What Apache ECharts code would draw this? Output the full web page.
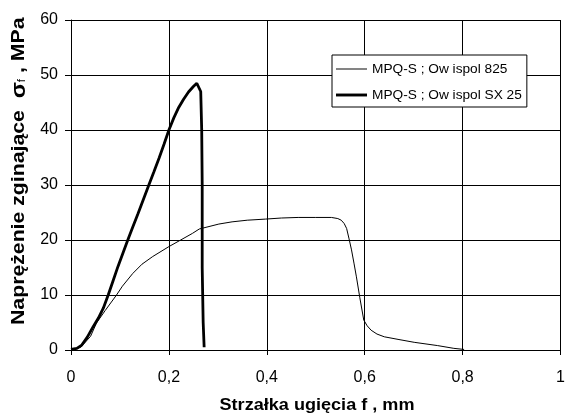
<!DOCTYPE html>
<html>
<head>
<meta charset="utf-8">
<script src="https://cdn.jsdelivr.net/npm/echarts@6/dist/echarts.min.js"></script>
<style>
  html, body { margin: 0; padding: 0; background: #fff; }
  #main { width: 568px; height: 414px; }
</style>
</head>
<body>
<div id="main"></div>
<script>
// dane
const seriesNames = ['MPQ-S ; Ow ispol 825', 'MPQ-S ; Ow ispol SX 25'];

// Owispol 825 (cienka linia)
const f825 = [0, 0.02, 0.04, 0.052, 0.07, 0.093, 0.105, 0.126, 0.145, 0.167, 0.2, 0.224, 0.248, 0.262,
    0.302, 0.329, 0.36, 0.397, 0.43, 0.464, 0.5, 0.532, 0.545, 0.552, 0.558, 0.563, 0.568, 0.573,
    0.578, 0.583, 0.59, 0.598, 0.605, 0.613, 0.625, 0.64, 0.67, 0.701, 0.749, 0.782, 0.803];
const s825 = [0, 0.5, 2.5, 4.9, 7.2, 10.0, 11.6, 13.9, 15.6, 17.0, 18.8, 20.0, 21.2, 22.0,
    22.9, 23.3, 23.6, 23.8, 24.0, 24.1, 24.1, 24.1, 23.9, 23.6, 23.0, 22.1, 20.2, 18.2,
    15.8, 13.3, 9.5, 5.45, 4.4, 3.6, 2.9, 2.4, 1.9, 1.4, 0.8, 0.3, 0.1];

// Owispol SX 25 (gruba linia)
const fSX25 = [0, 0.012, 0.022, 0.033, 0.045, 0.056, 0.066, 0.076, 0.086, 0.096, 0.106, 0.116, 0.126,
    0.137, 0.148, 0.159, 0.169, 0.18, 0.19, 0.2, 0.21, 0.22, 0.23, 0.24, 0.25, 0.257, 0.261, 0.265,
    0.267, 0.268, 0.268, 0.27, 0.272];
const sSX25 = [0.1, 0.3, 0.9, 2.3, 4.2, 5.8, 7.6, 10.0, 12.6, 15.2, 17.6, 20.0, 22.3,
    24.8, 27.4, 30.0, 32.3, 34.9, 37.4, 40.0, 42.2, 44.1, 45.6, 46.9, 47.9, 48.5, 48.3, 47.0,
    40, 30, 15, 5, 0.5];

function pairs(xs, ys) {
    return xs.map((x, i) => [x, ys[i]]);
}

let myChart = echarts.init(document.getElementById('main'), null, { renderer: 'canvas' });

const font = 'Liberation Sans, Arial, sans-serif';

let option = {
    backgroundColor: '#fff',
    animation: false,
    textStyle: { fontFamily: font },
    grid: {
        left: 71,
        top: 20,
        width: 493,
        height: 330
    },
    legend: {
        orient: 'vertical',
        left: 332,
        top: 55,
        data: [
            { name: seriesNames[0], icon: 'path://M0,0h32v1h-32z' },
            { name: seriesNames[1], icon: 'path://M0,0h32v3h-32z' }
        ],
        backgroundColor: '#fff',
        borderColor: '#000',
        borderWidth: 1,
        padding: [7, 5, 5, 4],
        itemWidth: 31,
        itemHeight: 14,
        itemGap: 12,
        textStyle: { fontSize: 13.7, color: '#000', fontFamily: font }
    },
    xAxis: {
        type: 'value',
        min: 0,
        max: 1,
        interval: 0.2,
        axisLine: { show: true, onZero: false, lineStyle: { color: '#000', width: 1 } },
        axisTick: { show: true, length: 5, lineStyle: { color: '#000' } },
        axisLabel: {
            fontSize: 16,
            color: '#000',
            margin: 20,
            formatter: v => String(+v.toFixed(1)).replace('.', ',')
        },
        splitLine: { show: true, lineStyle: { color: '#000', width: 1 } }
    },
    yAxis: {
        type: 'value',
        min: 0,
        max: 60,
        interval: 10,
        axisLine: { show: true, lineStyle: { color: '#000', width: 1 } },
        axisTick: { show: true, length: 6, lineStyle: { color: '#000' } },
        axisLabel: { fontSize: 16, color: '#000', margin: 13 },
        splitLine: { show: true, lineStyle: { color: '#000', width: 1 } }
    },
    graphic: [{
        // opis osi X
        type: 'text',
        x: 317,
        y: 406,
        scaleX: 1.13,
        style: {
            text: 'Strzałka ugięcia f , mm',
            font: 'bold 16px Liberation Sans, Arial, sans-serif',
            fill: '#000',
            align: 'center',
            verticalAlign: 'middle'
        }
    }, {
        // opis osi Y
        type: 'text',
        x: 19,
        y: 325,
        rotation: Math.PI / 2,
        scaleX: 1.18,
        style: {
            text: '{a|Naprężenie zginające  }{s|σ}{f|f}{a| , MPa}',
            fill: '#000',
            verticalAlign: 'middle',
            align: 'left',
            rich: {
                a: { fontSize: 18, fontWeight: 'bold', fontFamily: font, fill: '#000' },
                s: { fontSize: 20, fontWeight: 'bold', fontFamily: font, fill: '#000' },
                f: { fontSize: 10, fontFamily: font, fill: '#000', padding: [6, 0, 0, 0] }
            }
        }
    }],
    series: [{
        name: seriesNames[0],
        type: 'line',
        symbol: 'none',
        data: pairs(f825, s825),
        lineStyle: { color: '#000', width: 1 },
        itemStyle: { color: '#000' }
    }, {
        name: seriesNames[1],
        type: 'line',
        symbol: 'none',
        data: pairs(fSX25, sSX25),
        lineStyle: { color: '#000', width: 2.8 },
        itemStyle: { color: '#000' }
    }]
};

myChart.setOption(option);
</script>
</body>
</html>
